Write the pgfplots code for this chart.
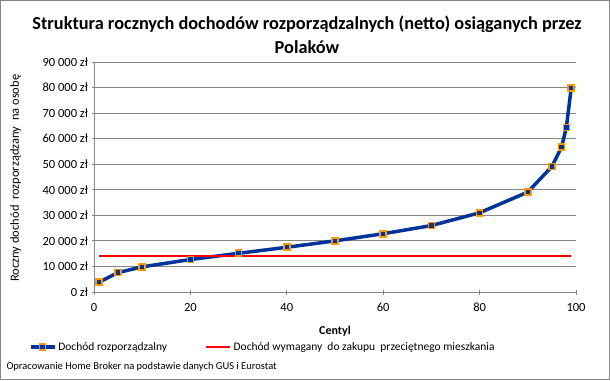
\documentclass[border=0pt]{standalone}
\usepackage{pgfplots}
\pgfplotsset{compat=1.18}
\usepackage{fontspec}
\setmainfont{Carlito}
\definecolor{dblue}{RGB}{0,51,153}
\definecolor{morange}{RGB}{255,153,0}
\definecolor{gridgray}{RGB}{134,134,134}
\begin{document}
\begin{tikzpicture}[x=1pt,y=1pt]
\useasboundingbox (0,0) rectangle (610,380);
\draw[gridgray,line width=0.8pt] (0.5,0.5) rectangle (609.5,379.5);
\node[font=\fontsize{18.3}{24}\selectfont\bfseries,align=center] at (307,345) {Struktura rocznych dochodów rozporządzalnych (netto) osiąganych przez\\Polaków};
\node[font=\fontsize{10.5}{12}\selectfont,anchor=west] at (3,13) {Opracowanie Home Broker na podstawie danych GUS i Eurostat};
\begin{axis}[
  at={(94pt,88pt)}, anchor=south west,
  width=482pt, height=230pt, scale only axis,
  xmin=0, xmax=100, ymin=0, ymax=90000,
  xtick={0,20,40,60,80,100},
  ytick={0,10000,20000,30000,40000,50000,60000,70000,80000,90000},
  yticklabels={0 zł,10 000 zł,20 000 zł,30 000 zł,40 000 zł,50 000 zł,60 000 zł,70 000 zł,80 000 zł,90 000 zł},
  scaled y ticks=false,
  /pgf/number format/assume math mode=true,
  ticklabel style={font=\fontsize{12.5}{14}\selectfont},
  xticklabel style={yshift=-5pt},
  axis lines=left, axis line style={-,gridgray,line width=0.8pt},
  tick style={gridgray,line width=0.8pt},
  major tick length=5pt,
  ymajorgrids, grid style={gridgray,line width=0.8pt},
  xlabel={Centyl}, xlabel style={font=\fontsize{12}{14}\selectfont\bfseries, at={(0.5,-0.17)}, anchor=center},
  ylabel={Roczny dochód\ \ rozporządzany\ \ na osobę}, ylabel style={font=\fontsize{12.5}{14}\selectfont, at={(-0.163,0.495)}, anchor=center},
  legend columns=2,
  legend style={at={(0.35,-0.24)}, anchor=center, draw=none, font=\fontsize{11.5}{13}\selectfont, /tikz/every even column/.append style={column sep=36pt}},
  legend image code/.code={\draw[mark repeat=2,mark phase=2,#1] plot coordinates {(0pt,0pt) (12pt,0pt) (24pt,0pt)};},
  legend cell align=left,
  clip=false,
]
\addplot[dblue, line width=3.5pt, mark=square*, mark size=3pt, mark options={fill=dblue, draw=morange, line width=1.6pt}] coordinates {
(1,3800) (5,7600) (10,9850) (20,12700) (30,15150) (40,17500) (50,20000) (60,22800) (70,26000) (80,31000) (90,39100) (95,49100) (97,56700) (98,64400) (99,79800)
};
\addlegendentry{Dochód rozporządzalny}
\addplot[red, line width=2.5pt] coordinates {(1,14100) (99,14100)};
\addlegendentry{Dochód wymagany\ \ do zakupu\ \ przeciętnego mieszkania}
\end{axis}
\end{tikzpicture}
\end{document}
